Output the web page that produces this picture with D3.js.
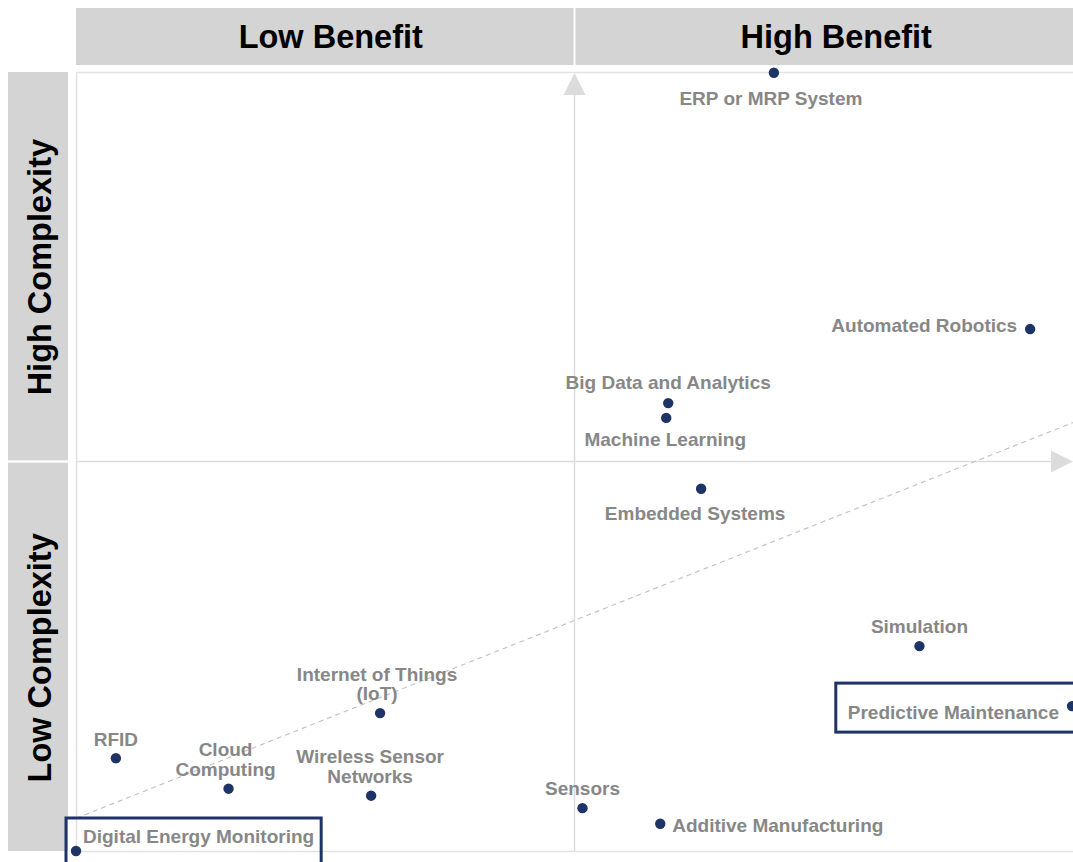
<!DOCTYPE html>
<html>
<head>
<meta charset="utf-8">
<script src="https://cdn.jsdelivr.net/npm/d3@7"></script>
<style>
  html, body { margin: 0; padding: 0; background: #fff; }
  svg { display: block; }
  text { font-family: "Liberation Sans", Arial, Helvetica, sans-serif; }
</style>
</head>
<body>
<svg id="chart" width="1073" height="862"></svg>
<script>
// ---- data ----
const technologies = [
  "ERP or MRP System", "Automated Robotics", "Big Data and Analytics", "Machine Learning",
  "Embedded Systems", "Simulation", "Predictive Maintenance", "Internet of Things (IoT)",
  "RFID", "Cloud Computing", "Wireless Sensor Networks", "Sensors",
  "Additive Manufacturing", "Digital Energy Monitoring"
];
const benefit    = [70, 95.7, 59.4, 59.2, 62.7, 84.6, 99.9, 30.5, 4.0, 15.3, 29.6, 50.8, 58.6, 0];
const complexity = [99.9, 67.0, 57.5, 55.6, 46.5, 26.3, 18.6, 17.7, 11.9, 8.0, 7.1, 5.5, 3.5, 0];
const labelLines = [
  ["ERP or MRP System"], ["Automated Robotics"], ["Big Data and Analytics"], ["Machine Learning"],
  ["Embedded Systems"], ["Simulation"], ["Predictive Maintenance"], ["Internet of Things", "(IoT)"],
  ["RFID"], ["Cloud", "Computing"], ["Wireless Sensor", "Networks"], ["Sensors"],
  ["Additive Manufacturing"], ["Digital Energy Monitoring"]
];
const highlighted = ["Predictive Maintenance", "Digital Energy Monitoring"];
const benefitBands = ["Low Benefit", "High Benefit"];
const complexityBands = ["High Complexity", "Low Complexity"];
const trendBenefit = [0, 100];
const trendComplexity = [4.2, 55];

// ---- label placement (layout only) ----
const placement = {
  "ERP or MRP System": {side: "below", dx: -3, dy: 25},
  "Automated Robotics": {side: "left", dx: -13, dy: -4},
  "Big Data and Analytics": {side: "above", dx: 0, dy: -21},
  "Machine Learning": {side: "below", dx: -1, dy: 21},
  "Embedded Systems": {side: "below", dx: -6, dy: 24},
  "Simulation": {side: "above", dx: 0, dy: -20},
  "Predictive Maintenance": {side: "left", dx: -13, dy: 6},
  "Internet of Things (IoT)": {side: "above", dx: -3, dy: -20},
  "RFID": {side: "above", dx: 0, dy: -19},
  "Cloud Computing": {side: "above", dx: -3, dy: -20},
  "Wireless Sensor Networks": {side: "above", dx: -1, dy: -20},
  "Sensors": {side: "above", dx: 0, dy: -20},
  "Additive Manufacturing": {side: "right", dx: 12, dy: 1},
  "Digital Energy Monitoring": {side: "right", dx: 7, dy: -15}
};
const bandTextDx = {"Low Benefit": 6, "High Benefit": 12};

const W = 1073, H = 862;
const plot = {left: 76, right: 1073, top: 72, bottom: 851};
const svg = d3.select("#chart");

const x = d3.scaleLinear().domain([0, 100]).range([plot.left, plot.right]);
const y = d3.scaleLinear().domain([0, 100]).range([plot.bottom, plot.top]);

// header bands
const xBand = d3.scaleBand().domain(benefitBands).range([plot.left, plot.right]).paddingInner(0.004);
const yBand = d3.scaleBand().domain(complexityBands).range([plot.top, plot.bottom]).paddingInner(0.006);

const gTop = svg.append("g");
gTop.selectAll("rect").data(benefitBands).join("rect")
  .attr("x", d => xBand(d)).attr("y", 8)
  .attr("width", xBand.bandwidth()).attr("height", 57)
  .attr("fill", "#d4d4d4");
gTop.selectAll("text").data(benefitBands).join("text")
  .attr("x", d => xBand(d) + xBand.bandwidth() / 2 + bandTextDx[d]).attr("y", 37)
  .attr("text-anchor", "middle").attr("dominant-baseline", "central")
  .attr("font-size", 32.5).attr("font-weight", "bold").attr("fill", "#000")
  .text(d => d);

const gLeft = svg.append("g");
gLeft.selectAll("rect").data(complexityBands).join("rect")
  .attr("x", 8).attr("y", d => yBand(d))
  .attr("width", 60).attr("height", yBand.bandwidth())
  .attr("fill", "#d4d4d4");
gLeft.selectAll("text").data(complexityBands).join("text")
  .attr("transform", d => `translate(40,${yBand(d) + yBand.bandwidth() / 2 + 1}) rotate(-90)`)
  .attr("text-anchor", "middle").attr("dominant-baseline", "central")
  .attr("font-size", 32.5).attr("font-weight", "bold").attr("fill", "#000")
  .text(d => d);

// plot frame
svg.append("rect")
  .attr("x", plot.left + 0.5).attr("y", plot.top + 0.5)
  .attr("width", plot.right - plot.left + 2).attr("height", plot.bottom - plot.top)
  .attr("fill", "none").attr("stroke", "#e2e2e2").attr("stroke-width", 1.5);

// quadrant axes with arrows
const axisColor = "#dcdcdc";
const midX = x(50), midY = y(50);
svg.append("line").attr("x1", midX).attr("x2", midX).attr("y1", plot.bottom).attr("y2", plot.top + 10)
  .attr("stroke", axisColor).attr("stroke-width", 1.5);
svg.append("path")
  .attr("d", `M${midX},${plot.top + 1} L${midX - 11},${plot.top + 23} L${midX + 11},${plot.top + 23} Z`)
  .attr("fill", axisColor);
svg.append("line").attr("x1", plot.left).attr("x2", plot.right - 10).attr("y1", midY).attr("y2", midY)
  .attr("stroke", axisColor).attr("stroke-width", 1.5);
svg.append("path")
  .attr("d", `M${plot.right},${midY} L${plot.right - 22},${midY - 11} L${plot.right - 22},${midY + 11} Z`)
  .attr("fill", axisColor);

// trend line
svg.append("line")
  .attr("x1", x(trendBenefit[0])).attr("y1", y(trendComplexity[0]))
  .attr("x2", x(trendBenefit[1])).attr("y2", y(trendComplexity[1]))
  .attr("stroke", "#c4c4c4").attr("stroke-width", 1.2).attr("stroke-dasharray", "5,4");

const data = technologies.map((t, i) => ({
  name: t, b: benefit[i], c: complexity[i], lines: labelLines[i], p: placement[t]
}));

// label elements
const labelColor = "#878787";
const fs = 19, lh = 19.5;
const gLabels = svg.append("g");
const labels = gLabels.selectAll("text").data(data).join("text")
  .attr("font-size", fs).attr("font-weight", "bold").attr("fill", labelColor)
  .attr("dominant-baseline", "central")
  .attr("text-anchor", d => d.p.side === "left" ? "end" : d.p.side === "right" ? "start" : "middle")
  .each(function(d) {
    const n = d.lines.length;
    const px = x(d.b) + d.p.dx;
    const py = y(d.c) + d.p.dy;
    const t = d3.select(this);
    d.lines.forEach((ln, k) => {
      let ly;
      if (d.p.side === "above") ly = py - (n - 1 - k) * lh;
      else ly = py + k * lh;
      t.append("tspan").attr("x", px).attr("y", ly).text(ln);
    });
  });

// highlight boxes
data.filter(d => highlighted.includes(d.name)).forEach(d => {
  const node = labels.filter(e => e.name === d.name).node();
  const bb = node.getBBox();
  const cy = y(d.c) + d.p.dy;
  let bx, by, bw, bh;
  if (d.p.side === "left") {
    bx = bb.x - 12; by = cy - 29; bw = (plot.right + 10) - bx; bh = 49;
  } else {
    bx = bb.x - 17; by = cy - 18; bw = bb.width + 24; bh = 60;
  }
  svg.append("rect")
    .attr("x", bx).attr("y", by).attr("width", bw).attr("height", bh)
    .attr("fill", "none").attr("stroke", "#1e3366").attr("stroke-width", 3);
});

// points
svg.append("g").selectAll("circle").data(data).join("circle")
  .attr("cx", d => x(d.b)).attr("cy", d => y(d.c)).attr("r", 5.2)
  .attr("fill", "#1e3366");
</script>
</body>
</html>
